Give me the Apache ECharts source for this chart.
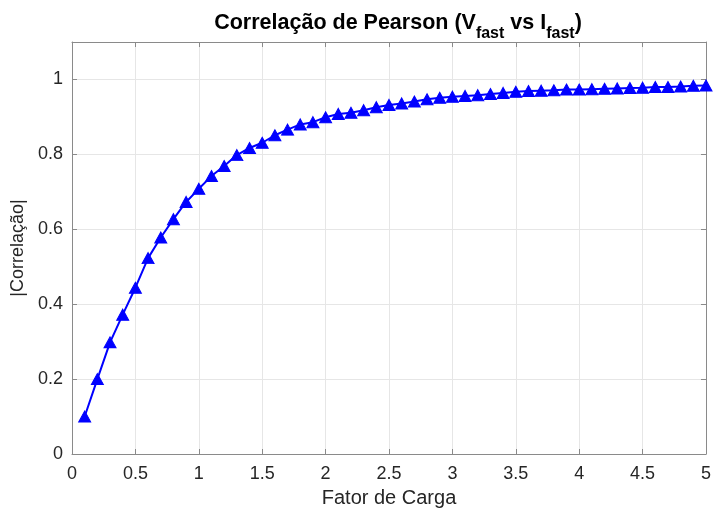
<!DOCTYPE html>
<html>
<head>
<meta charset="utf-8">
<script src="https://cdn.jsdelivr.net/npm/echarts@6/dist/echarts.min.js"></script>
<style>
  html, body { margin: 0; padding: 0; background: #fff; }
  #chart { width: 714px; height: 513px; }
</style>
</head>
<body>
<div id="chart"></div>
<script>
// Fator de carga (0.1 ... 5.0)
const loadFactor = [
  0.1, 0.2, 0.3, 0.4, 0.5, 0.6, 0.7, 0.8, 0.9, 1.0,
  1.1, 1.2, 1.3, 1.4, 1.5, 1.6, 1.7, 1.8, 1.9, 2.0,
  2.1, 2.2, 2.3, 2.4, 2.5, 2.6, 2.7, 2.8, 2.9, 3.0,
  3.1, 3.2, 3.3, 3.4, 3.5, 3.6, 3.7, 3.8, 3.9, 4.0,
  4.1, 4.2, 4.3, 4.4, 4.5, 4.6, 4.7, 4.8, 4.9, 5.0
];
// |Correlação| de Pearson entre V_fast e I_fast
const correlation = [
  0.100, 0.200, 0.298, 0.372, 0.444, 0.523, 0.578, 0.627, 0.673, 0.708,
  0.742, 0.769, 0.798, 0.817, 0.831, 0.851, 0.866, 0.880, 0.886, 0.899,
  0.908, 0.911, 0.918, 0.926, 0.932, 0.936, 0.941, 0.947, 0.951, 0.954,
  0.956, 0.958, 0.961, 0.964, 0.967, 0.969, 0.970, 0.971, 0.973, 0.973,
  0.974, 0.975, 0.976, 0.977, 0.978, 0.980, 0.980, 0.981, 0.983, 0.984
];
const xTicks = { min: 0, max: 5, interval: 0.5 };
const yTicks = { min: 0, max: 1.1, interval: 0.2 };

const FONT = '"Liberation Sans", Arial, Helvetica, sans-serif';
const AXIS_GREY = '#8a8a8a';
const TEXT = '#262626';

const chart = echarts.init(document.getElementById('chart'), null, { renderer: 'canvas' });

// Box-style axes: grey frame line with short inward ticks
const boxAxis = {
  axisLine: { show: true, onZero: false, lineStyle: { color: AXIS_GREY, width: 1 } },
  axisTick: { show: true, inside: true, length: 5, lineStyle: { color: AXIS_GREY } },
};

chart.setOption({
  animation: false,
  backgroundColor: '#ffffff',
  title: {
    text: 'Correlação de Pearson (V{s|fast} vs I{s|fast})',
    left: 393,
    textAlign: 'center',
    top: 6,
    textStyle: {
      fontFamily: FONT,
      fontWeight: 'bold',
      fontSize: 21.5,
      color: '#000',
      lineHeight: 24,
      verticalAlign: 'top',
      rich: {
        s: {
          fontFamily: FONT,
          fontWeight: 'bold',
          fontSize: 16,
          color: '#000',
          lineHeight: 16,
          verticalAlign: 'top',
          padding: [15, 0, 0, 0]
        }
      }
    }
  },
  grid: { left: 72, right: 6, top: 42, bottom: 57, containLabel: false },
  xAxis: [
    Object.assign({
      type: 'value',
      min: xTicks.min, max: xTicks.max, interval: xTicks.interval,
      position: 'bottom',
      name: 'Fator de Carga',
      nameLocation: 'middle',
      nameGap: 34,
      nameTextStyle: { fontFamily: FONT, fontSize: 20, color: TEXT },
      axisLabel: {
        fontFamily: FONT, fontSize: 18, color: TEXT, margin: 11,
        formatter: v => String(Math.round(v * 10) / 10)
      },
      splitLine: { show: true, lineStyle: { color: '#e6e6e6', width: 1 } }
    }, boxAxis),
    Object.assign({
      type: 'value',
      min: xTicks.min, max: xTicks.max, interval: xTicks.interval,
      position: 'top',
      axisLabel: { show: false },
      splitLine: { show: false }
    }, boxAxis)
  ],
  yAxis: [
    Object.assign({
      type: 'value',
      min: yTicks.min, max: yTicks.max, interval: yTicks.interval,
      position: 'left',
      name: '|Correlação|',
      nameLocation: 'middle',
      nameGap: 39,
      nameTextStyle: { fontFamily: FONT, fontSize: 18, color: TEXT },
      axisLabel: {
        fontFamily: FONT, fontSize: 18, color: TEXT, margin: 9,
        showMaxLabel: false,
        formatter: v => String(Math.round(v * 10) / 10)
      },
      splitLine: { show: true, lineStyle: { color: '#e6e6e6', width: 1 } }
    }, boxAxis),
    Object.assign({
      type: 'value',
      min: yTicks.min, max: yTicks.max, interval: yTicks.interval,
      position: 'right',
      axisLabel: { show: false },
      splitLine: { show: false }
    }, boxAxis)
  ],
  series: [{
    type: 'line',
    data: loadFactor.map((x, i) => [x, correlation[i]]),
    xAxisIndex: 0,
    yAxisIndex: 0,
    symbol: 'triangle',
    symbolSize: [12, 11],
    showAllSymbol: true,
    lineStyle: { color: '#0000ff', width: 2 },
    itemStyle: { color: '#0000ff', borderColor: '#0000ff', borderWidth: 1 },
    z: 3
  }]
});
</script>
</body>
</html>
